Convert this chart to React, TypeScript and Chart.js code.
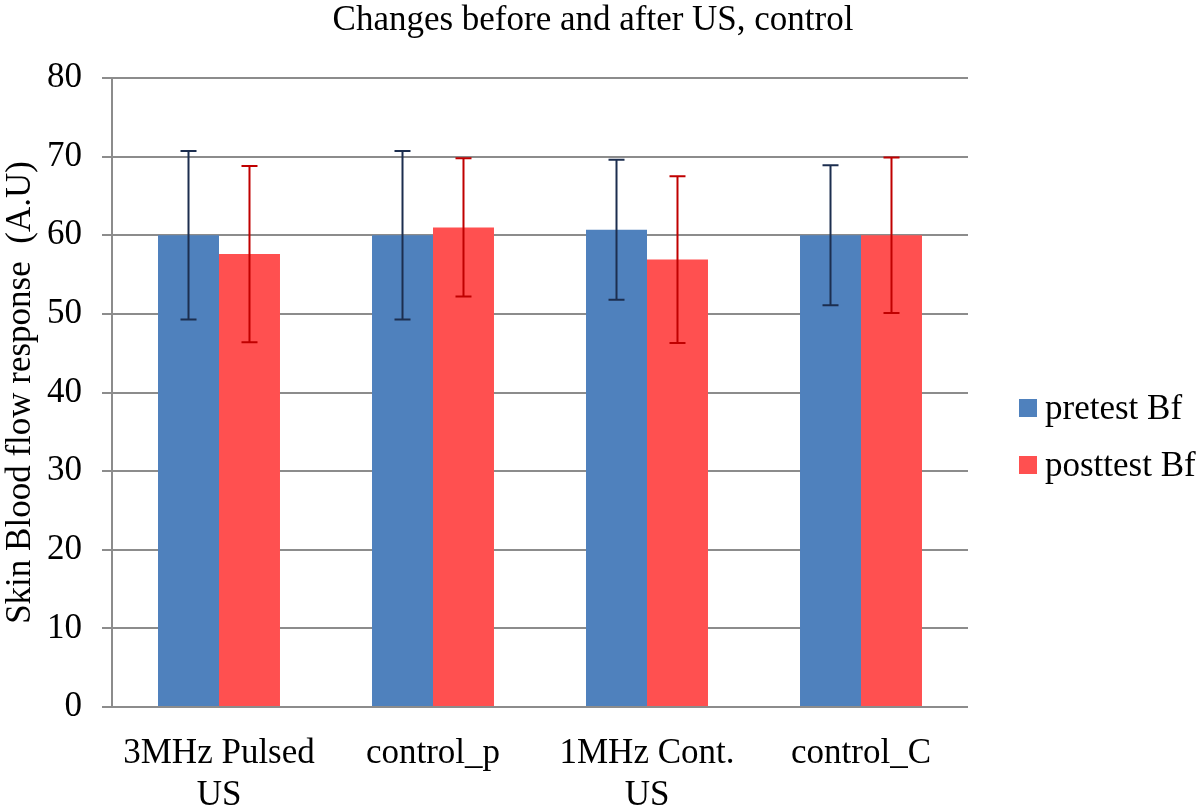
import React, { useEffect, useRef } from "react";
import { Chart, registerables } from "chart.js";

Chart.register(...registerables);

const chartTitle = "Changes before and after US, control";
const yAxisTitle = "Skin Blood flow response  (A.U)";
const categories: (string | string[])[] = [["3MHz Pulsed", "US"], "control_p", ["1MHz Cont.", "US"], "control_C"];
const seriesNames = ["pretest Bf", "posttest Bf"];
const pretest = [60.0, 60.0, 60.7, 60.0];
const pretestErr = [10.7, 10.7, 8.9, 8.9];
const posttest = [57.6, 61.0, 56.9, 60.0];
const posttestErr = [11.2, 8.8, 10.6, 9.9];
const yMin = 0;
const yMax = 80;
const yStep = 10;

const FONT = '"Liberation Serif", "Times New Roman", serif';
const barColors = ["#4F81BD", "#FF5050"];
const errColors = ["#1C2E4F", "#C00000"];
const errors = [pretestErr, posttestErr];

const errorBarPlugin = {
  id: "errorBars",
  afterDatasetsDraw(chart: any) {
    const ctx = chart.ctx;
    const yScale = chart.scales.y;
    chart.data.datasets.forEach((ds: any, di: number) => {
      const meta = chart.getDatasetMeta(di);
      meta.data.forEach((el: any, i: number) => {
        const v = ds.data[i];
        const e = errors[di][i];
        const yt = yScale.getPixelForValue(v + e);
        const yb = yScale.getPixelForValue(v - e);
        const x = el.x;
        ctx.save();
        ctx.strokeStyle = errColors[di];
        ctx.lineWidth = 2;
        ctx.beginPath();
        ctx.moveTo(x, yt);
        ctx.lineTo(x, yb);
        ctx.moveTo(x - 8, yt);
        ctx.lineTo(x + 8, yt);
        ctx.moveTo(x - 8, yb);
        ctx.lineTo(x + 8, yb);
        ctx.stroke();
        ctx.restore();
      });
    });
  },
};

const overlayPlugin = {
  id: "overlay",
  afterDraw(chart: any) {
    const ctx = chart.ctx;
    ctx.save();
    ctx.fillStyle = "#000";
    ctx.font = `35px ${FONT}`;
    ctx.textAlign = "center";
    ctx.textBaseline = "alphabetic";
    ctx.fillText(chartTitle, 593, 30);
    // legend
    ctx.textAlign = "left";
    ctx.textBaseline = "middle";
    const rows = [408, 465];
    seriesNames.forEach((name, i) => {
      ctx.fillStyle = barColors[i];
      ctx.fillRect(1019, rows[i] - 9, 18, 18);
      ctx.fillStyle = "#000";
      ctx.fillText(name, 1045, rows[i] + 2);
    });
    ctx.restore();
  },
};

export default function App() {
  const ref = useRef<HTMLCanvasElement | null>(null);
  useEffect(() => {
    document.body.style.margin = "0";
    const canvas = ref.current!;
    const chart = new Chart(canvas, {
      type: "bar",
      data: {
        labels: categories,
        datasets: [
          { label: seriesNames[0], data: pretest, backgroundColor: barColors[0], borderWidth: 0 },
          { label: seriesNames[1], data: posttest, backgroundColor: barColors[1], borderWidth: 0 },
        ],
      },
      options: {
        responsive: false,
        animation: false,
        devicePixelRatio: 1,
        layout: { padding: { top: 78, right: 232, left: 0, bottom: 0 } },
        plugins: {
          legend: { display: false },
          title: { display: false },
          tooltip: { enabled: false },
        },
        datasets: { bar: { categoryPercentage: 0.57, barPercentage: 1.0 } },
        scales: {
          x: {
            grid: { display: false, drawTicks: false },
            border: { display: false },
            ticks: {
              color: "#000",
              font: { family: FONT, size: 35, lineHeight: 1.2 },
              padding: 26,
              maxRotation: 0,
              autoSkip: false,
            },
            afterFit(scale: any) {
              scale.height = 102;
            },
          },
          y: {
            min: yMin,
            max: yMax,
            ticks: {
              stepSize: yStep,
              color: "#000",
              font: { family: FONT, size: 35 },
              padding: 20,
            },
            grid: {
              color: "#8C8C8C",
              lineWidth: 2,
              drawTicks: true,
              tickLength: 10,
              tickColor: "#8C8C8C",
            },
            border: { display: true, color: "#8C8C8C", width: 2 },
            title: {
              display: true,
              text: yAxisTitle,
              color: "#000",
              font: { family: FONT, size: 35, lineHeight: 1.2 },
              padding: { top: 0, bottom: 0 },
            },
            afterFit(scale: any) {
              scale.width = 112;
            },
          },
        },
      },
      plugins: [errorBarPlugin, overlayPlugin],
    });
    return () => chart.destroy();
  }, []);
  return (
    <div style={{ width: 1200, height: 809 }}>
      <canvas ref={ref} width={1200} height={809} style={{ display: "block" }} />
    </div>
  );
}
